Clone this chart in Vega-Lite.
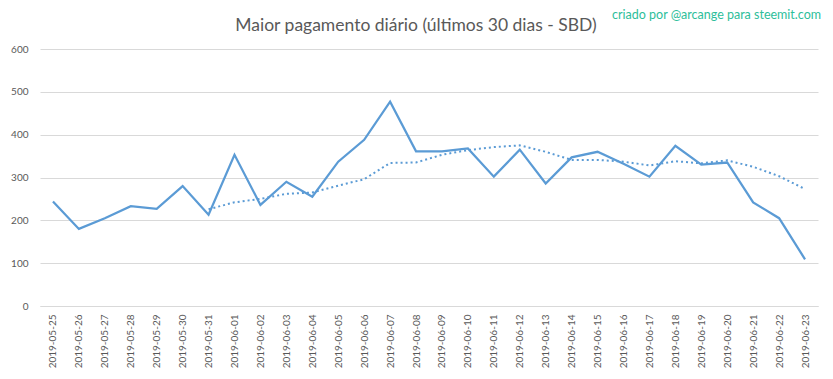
{
  "$schema": "https://vega.github.io/schema/vega-lite/v6.json",
  "width": 778,
  "height": 257,
  "autosize": {"type": "none"},
  "padding": {"left": 40, "top": 49, "right": 15, "bottom": 73},
  "background": "white",
  "title": {
    "text": "Maior pagamento diário (últimos 30 dias  - SBD)",
    "anchor": "middle",
    "font": "Lato",
    "fontSize": 17.5,
    "fontWeight": "normal",
    "color": "#595959",
    "offset": -26,
    "dx": -13
  },
  "config": {
    "view": {"stroke": null},
    "font": "Lato"
  },
  "data": {
    "values": [
      {"data": "2019-05-25", "valor": 244, "media": null},
      {"data": "2019-05-26", "valor": 180, "media": null},
      {"data": "2019-05-27", "valor": 205, "media": null},
      {"data": "2019-05-28", "valor": 233, "media": null},
      {"data": "2019-05-29", "valor": 227, "media": null},
      {"data": "2019-05-30", "valor": 280, "media": null},
      {"data": "2019-05-31", "valor": 213, "media": 226},
      {"data": "2019-06-01", "valor": 353, "media": 242},
      {"data": "2019-06-02", "valor": 236, "media": 250},
      {"data": "2019-06-03", "valor": 290, "media": 262},
      {"data": "2019-06-04", "valor": 255, "media": 265},
      {"data": "2019-06-05", "valor": 337, "media": 281},
      {"data": "2019-06-06", "valor": 388, "media": 296},
      {"data": "2019-06-07", "valor": 477, "media": 334},
      {"data": "2019-06-08", "valor": 361, "media": 335},
      {"data": "2019-06-09", "valor": 361, "media": 353},
      {"data": "2019-06-10", "valor": 368, "media": 364},
      {"data": "2019-06-11", "valor": 302, "media": 371},
      {"data": "2019-06-12", "valor": 365, "media": 375},
      {"data": "2019-06-13", "valor": 286, "media": 360},
      {"data": "2019-06-14", "valor": 347, "media": 341},
      {"data": "2019-06-15", "valor": 360, "media": 341},
      {"data": "2019-06-16", "valor": 332, "media": 337},
      {"data": "2019-06-17", "valor": 302, "media": 328},
      {"data": "2019-06-18", "valor": 374, "media": 338},
      {"data": "2019-06-19", "valor": 330, "media": 333},
      {"data": "2019-06-20", "valor": 335, "media": 340},
      {"data": "2019-06-21", "valor": 242, "media": 325},
      {"data": "2019-06-22", "valor": 205, "media": 303},
      {"data": "2019-06-23", "valor": 109, "media": 273}
    ]
  },
  "encoding": {
    "x": {
      "field": "data",
      "type": "ordinal",
      "sort": null,
      "scale": {"type": "point", "padding": 0.5},
      "axis": {
        "title": null,
        "labelAngle": -90,
        "labelFont": "Lato",
        "labelFontSize": 10,
        "labelColor": "#595959",
        "labelPadding": 8,
        "ticks": false,
        "domainColor": "#d9d9d9",
        "domainWidth": 1,
        "grid": false
      }
    }
  },
  "layer": [
    {
      "mark": {"type": "line", "color": "#5B9BD5", "strokeWidth": 2.25},
      "encoding": {
        "y": {
          "field": "valor",
          "type": "quantitative",
          "scale": {"domain": [0, 600], "nice": false},
          "axis": {
            "title": null,
            "values": [0, 100, 200, 300, 400, 500, 600],
            "labelFont": "Lato",
            "labelFontSize": 10,
            "labelColor": "#595959",
            "labelPadding": 12,
            "ticks": false,
            "domain": false,
            "gridColor": "#d9d9d9",
            "gridWidth": 1
          }
        }
      }
    },
    {
      "mark": {"type": "line", "color": "#5B9BD5", "strokeWidth": 2, "strokeDash": [2, 3]},
      "encoding": {
        "y": {"field": "media", "type": "quantitative"}
      }
    },
    {
      "data": {"values": [{"texto": "criado por @arcange para steemit.com"}]},
      "mark": {
        "type": "text",
        "align": "right",
        "baseline": "middle",
        "font": "Lato",
        "fontSize": 12.5,
        "color": "#2DBE9A",
        "dx": 16
      },
      "encoding": {
        "x": {"datum": "2019-06-23"},
        "y": {"datum": 680},
        "text": {"field": "texto"}
      }
    }
  ]
}
